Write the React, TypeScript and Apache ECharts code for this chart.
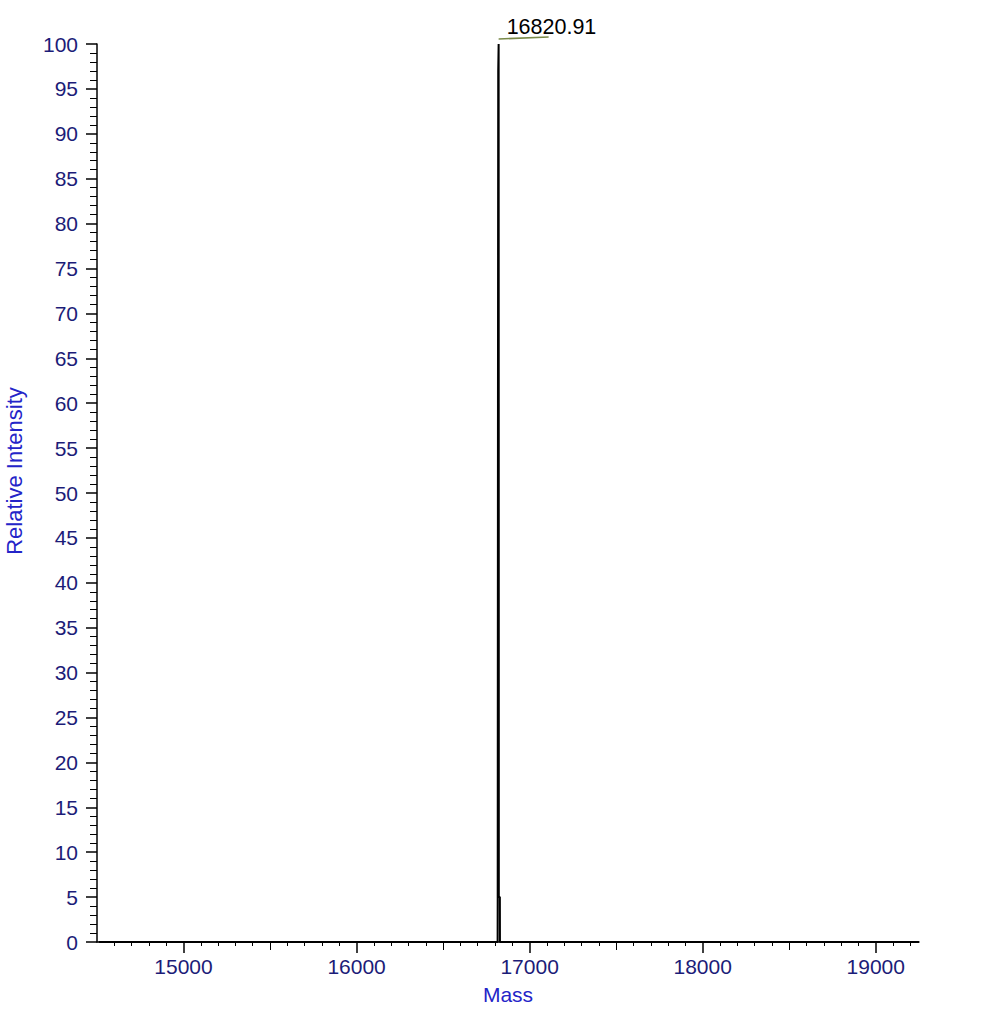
import { useEffect, useRef } from "react";
import * as echarts from "echarts";

// Deconvoluted spectrum (mass vs relative intensity)
const massValues = [14510, 16815, 16815.5, 16817, 16818.5, 16820.91, 16821.5, 16822, 16828, 16828.5, 19250];
const intensityValues = [0, 0, 5, 60, 97, 100, 60, 5, 5, 0, 0];

const peakMass = 16820.91;
const peakIntensity = 100;
const peakLabel = "16820.91";

// x axis tick marks
const majorMassTicks = [15000, 16000, 17000, 18000, 19000];
const midMassTicks = [15500, 16500, 17500, 18500];
const minorMassTicks: number[] = [];
for (let m = 14600; m < 19250; m += 100) {
  if (m % 500 !== 0) minorMassTicks.push(m);
}

const X_MIN = 14500;
const X_MAX = 19250;

const FONT = "'Liberation Sans', Arial, sans-serif";
const LABEL_COLOR = "#1c1c78";
const NAME_COLOR = "#2424c8";

const App: React.FC = () => {
  const containerRef = useRef<HTMLDivElement>(null);

  useEffect(() => {
    if (!containerRef.current) return;
    const chart = echarts.init(containerRef.current, undefined, { renderer: "svg" });

    const hiddenAxis = (ticks: number[], len: number) => ({
      type: "value",
      min: X_MIN,
      max: X_MAX,
      position: "bottom",
      axisLine: { show: false },
      axisLabel: { show: false },
      splitLine: { show: false },
      axisTick: {
        show: true,
        customValues: ticks,
        length: len,
        lineStyle: { color: "#000", width: 1 },
      },
    });

    chart.setOption({
      animation: false,
      backgroundColor: "#fff",
      textStyle: { fontFamily: FONT },
      grid: {
        left: 97,
        right: 81,
        top: 44,
        bottom: 80,
        containLabel: false,
        outerBoundsMode: "none",
      },
      xAxis: [
        {
          type: "value",
          min: X_MIN,
          max: X_MAX,
          position: "bottom",
          name: "Mass",
          nameLocation: "middle",
          nameGap: 42,
          nameTextStyle: { fontSize: 21, color: NAME_COLOR, fontFamily: FONT },
          axisLine: { show: true, lineStyle: { color: "#000", width: 1.5 } },
          axisTick: {
            show: true,
            customValues: majorMassTicks,
            length: 11,
            lineStyle: { color: "#000", width: 1.5 },
          },
          axisLabel: {
            customValues: majorMassTicks,
            formatter: (v: number) => String(v),
            fontSize: 21,
            color: LABEL_COLOR,
            fontFamily: FONT,
            margin: 14,
          },
          splitLine: { show: false },
        },
        hiddenAxis(midMassTicks, 8),
        hiddenAxis(minorMassTicks, 4),
      ],
      yAxis: {
        type: "value",
        min: 0,
        max: 100,
        interval: 5,
        name: "Relative Intensity",
        nameLocation: "middle",
        nameGap: 72,
        nameTextStyle: {
          fontSize: 22,
          color: NAME_COLOR,
          fontFamily: FONT,
          padding: [0, 0, 0, 44],
        },
        axisLine: { show: true, lineStyle: { color: "#000", width: 1.5 } },
        axisTick: { show: true, length: 11, lineStyle: { color: "#000", width: 1.5 } },
        minorTick: { show: true, splitNumber: 5, length: 7, lineStyle: { color: "#000", width: 1 } },
        axisLabel: { fontSize: 21, color: LABEL_COLOR, fontFamily: FONT, margin: 19 },
        splitLine: { show: false },
      },
      series: [
        {
          type: "line",
          xAxisIndex: 0,
          data: massValues.map((m, i) => [m, intensityValues[i]]),
          showSymbol: false,
          symbol: "none",
          clip: false,
          lineStyle: { color: "#000", width: 2 },
          markPoint: {
            symbol: "circle",
            symbolSize: 0,
            silent: true,
            data: [
              {
                coord: [peakMass, peakIntensity],
                label: {
                  show: true,
                  formatter: peakLabel,
                  position: "right",
                  distance: 8,
                  offset: [0, -17],
                  fontSize: 21.5,
                  color: "#000",
                  fontFamily: FONT,
                },
              },
            ],
          },
        },
      ],
    });

    // leader line under the peak label
    const p = chart.convertToPixel({ gridIndex: 0 }, [peakMass, peakIntensity]) as number[];
    if (p) {
      chart.setOption({
        graphic: [
          {
            type: "line",
            silent: true,
            shape: { x1: p[0], y1: p[1] - 5, x2: p[0] + 50, y2: p[1] - 7 },
            style: { stroke: "#7a8a48", lineWidth: 1.5 },
          },
        ],
      });
    }

    return () => {
      chart.dispose();
    };
  }, []);

  return (
    <div
      ref={containerRef}
      style={{ position: "fixed", left: 0, top: 0, width: "1000px", height: "1022px" }}
    />
  );
};

export default App;
